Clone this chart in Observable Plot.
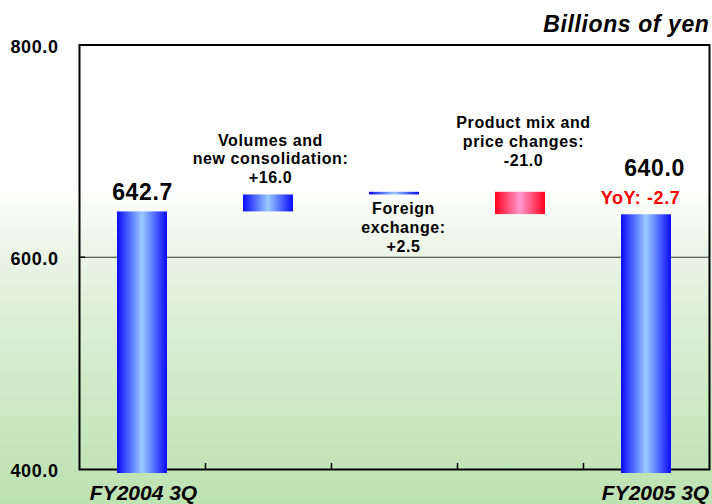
<!DOCTYPE html>
<html><head><meta charset="utf-8">
<script src="https://cdn.jsdelivr.net/npm/d3@7"></script>
<script src="https://cdn.jsdelivr.net/npm/@observablehq/plot@0.6"></script>
<style>
html,body{margin:0;padding:0;background:#fff;}
#chart svg{display:block;}
</style></head><body><div id="chart"></div>
<script>
// ---- data ----
const categories = ["FY2004 3Q", "Volumes and new consolidation", "Foreign exchange", "Product mix and price changes", "FY2005 3Q"];
const kinds = ["total", "increase", "increase", "decrease", "total"];
const barStart = [400, 642.7, 658.7, 661.2, 400];
const barEnd = [642.7, 658.7, 661.2, 640.2, 640.0];
const barLabels = ["642.7", "Volumes and\nnew consolidation:\n+16.0", "Foreign\nexchange:\n+2.5", "Product mix and\nprice changes:\n-21.0", "640.0"];
const yoyLabel = "YoY: -2.7";
const xTickLabels = ["FY2004 3Q", "", "", "", "FY2005 3Q"];
const yTicks = [400, 600, 800];
const gridValues = [600];
const unitLabel = "Billions of yen";

const rows = categories.map((c, i) => ({cat: c, kind: kinds[i], y1: barStart[i], y2: barEnd[i], label: barLabels[i], tick: xTickLabels[i]}));

const FONT = "'Liberation Sans', Arial, Helvetica, sans-serif";
const bold = {fontWeight: "bold", fill: "black"};

const plot = Plot.plot({
  width: 712,
  height: 504,
  marginLeft: 79,
  marginRight: 3,
  marginTop: 44.5,
  marginBottom: 35,
  style: {
    fontFamily: FONT,
    color: "black",
    letterSpacing: "0.6px",
    background: "linear-gradient(to bottom, #ffffff 0px, #ffffff 188px, #eef6ea 240px, #dcefd5 320px, #c9e8c0 420px, #bde2b2 504px)"
  },
  x: {type: "band", domain: categories, padding: 0, axis: null},
  y: {domain: [400, 800], axis: null, label: null},
  marks: [
    Plot.ruleY(gridValues, {stroke: "#3a3a3a", strokeWidth: 1}),
    Plot.ruleY(gridValues, {stroke: "#000", strokeWidth: 1.5, insetRight: 624}),
    Plot.ruleX(categories.slice(1), {x: d => d, dx: -63, y1: 400, y2: 400, insetTop: -6, stroke: "#000", strokeWidth: 1.5}),
    Plot.frame({stroke: "#000", strokeWidth: 2}),
    Plot.barY(rows.filter(d => d.kind === "total"), {x: "cat", y1: "y1", y2: "y2", fill: "url(#gBlue)", insetLeft: 38, insetRight: 38, insetBottom: -4}),
    Plot.barY(rows.filter(d => d.kind === "increase"), {x: "cat", y1: "y1", y2: "y2", fill: "url(#gBlue)", insetLeft: 38, insetRight: 38}),
    Plot.barY(rows.filter(d => d.kind === "decrease"), {x: "cat", y1: "y1", y2: "y2", fill: "url(#gRed)", insetLeft: 38, insetRight: 38}),
    Plot.axisY(yTicks, {tickFormat: d3.format(".1f"), tickSize: 0, tickPadding: 21, fontSize: 18, fontWeight: "bold", dy: 2, label: null}),
    // value labels
    Plot.text([rows[0]], {x: "cat", y: "y2", text: "label", lineAnchor: "bottom", dy: -12, fontSize: 23, ...bold}),
    Plot.text([rows[1]], {x: "cat", y: "y2", text: "label", lineAnchor: "bottom", dy: -12, dx: 2, fontSize: 16, lineHeight: 1.17, ...bold}),
    Plot.text([rows[2]], {x: "cat", y: "y1", text: "label", lineAnchor: "top", dy: 6, dx: 9, fontSize: 16, lineHeight: 1.17, ...bold}),
    Plot.text([rows[3]], {x: "cat", y: "y1", text: "label", lineAnchor: "bottom", dy: -26.5, dx: 3, fontSize: 16, lineHeight: 1.17, ...bold}),
    Plot.text([rows[4]], {x: "cat", y: "y2", text: "label", lineAnchor: "bottom", dy: -39, dx: 8, fontSize: 23, ...bold}),
    Plot.text([rows[4]], {x: "cat", y: "y2", text: () => yoyLabel, lineAnchor: "bottom", dy: -10.5, dx: -6, fontSize: 18, fontWeight: "bold", fill: "#ff0000"}),
    // x category labels
    Plot.text([rows[0]], {x: "cat", text: "tick", frameAnchor: "bottom", lineAnchor: "top", dy: 15.5, dx: 1, fontSize: 21, fontStyle: "italic", ...bold}),
    Plot.text([rows[4]], {x: "cat", text: "tick", frameAnchor: "bottom", lineAnchor: "top", dy: 15.5, dx: 9, fontSize: 21, fontStyle: "italic", ...bold}),
    // unit label
    Plot.text([unitLabel], {text: d => d, frameAnchor: "top-right", textAnchor: "end", lineAnchor: "bottom", dy: -12.8, fontSize: 23, fontStyle: "italic", ...bold})
  ]
});

// gradient definitions for the bars
const svg = d3.select(plot);
const defs = svg.insert("defs", ":first-child");
function addGradient(id, edge, center) {
  const g = defs.append("linearGradient").attr("id", id).attr("x1", "0").attr("y1", "0").attr("x2", "1").attr("y2", "0");
  g.append("stop").attr("offset", "0").attr("stop-color", edge);
  g.append("stop").attr("offset", "0.5").attr("stop-color", center);
  g.append("stop").attr("offset", "1").attr("stop-color", edge);
}
addGradient("gBlue", "#0a0aff", "#99ccff");
addGradient("gRed", "#ff0020", "#ff99cc");

// category labels keep normal spacing
svg.selectAll("text").filter(function () { return xTickLabels.includes(this.textContent) && this.textContent !== ""; }).style("letter-spacing", "0");

document.getElementById("chart").appendChild(plot);
</script>
</body></html>
